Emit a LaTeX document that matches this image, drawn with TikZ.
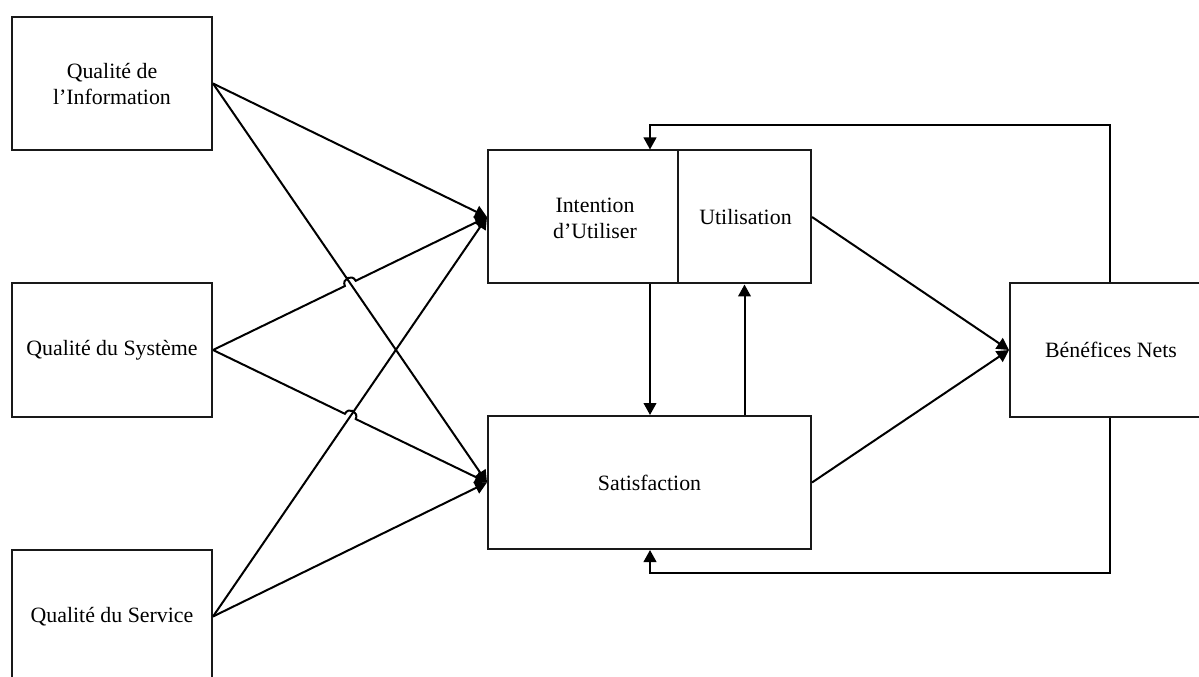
\documentclass[tikz,border=0pt]{standalone}
\usepackage{fontspec}
\setmainfont{Liberation Serif}
\usetikzlibrary{arrows.meta,calc}

\tikzset{
  box/.style={draw=black!90, line width=1.5pt, rectangle, inner sep=0pt},
  lbl/.style={font=\fontsize{16.4}{19.5}\selectfont, align=center, inner sep=0pt},
  link/.style={line width=1.5pt, -{Triangle[length=9pt,width=9.5pt]}},
}

\begin{document}
\begin{tikzpicture}[x=0.75pt, y=-0.75pt]
  \useasboundingbox (0,0) rectangle (1199,677);

  % quality dimensions
  \node[box, minimum width=150pt, minimum height=99.75pt] (qi) at (112,83.5) {};
  \node[lbl] (qit) at (112,84) {Qualité de\\l’Information};
  \node[box, minimum width=150pt, minimum height=99.75pt] (qs) at (112,350) {};
  \node[lbl] (qst) at (112,350) {Qualité du Système};
  \node[box, minimum width=150pt, minimum height=99.75pt] (qv) at (112,616.5) {};
  \node[lbl] (qvt) at (112,617) {Qualité du Service};

  % use, satisfaction and net benefits
  \node[box, minimum width=142.5pt, minimum height=99.75pt] (int) at (583,217) {};
  \node[lbl] (intt) at (595,218) {Intention\\d’Utiliser};
  \node[box, minimum width=99.75pt, minimum height=99.75pt] (util) at (744.5,217) {};
  \node[lbl] (utilt) at (745.5,217) {Utilisation};
  \node[box, minimum width=242.25pt, minimum height=99.75pt] (sat) at (649.5,482.5) {};
  \node[lbl] (satt) at (649.5,483) {Satisfaction};
  \node[box, minimum width=150pt, minimum height=99.75pt] (ben) at (1110,350) {};
  \node[lbl] (bent) at (1111,350) {Bénéfices Nets};

  % crossings with line hops
  \coordinate (x1) at (intersection of qs.east--int.west and qi.east--sat.west);
  \coordinate (x2) at (intersection of qs.east--sat.west and qv.east--int.west);
  \coordinate (h1a) at ($(x1)!4.5pt!(qs.east)$);
  \coordinate (h1b) at ($(x1)!4.5pt!(int.west)$);
  \coordinate (h2a) at ($(x2)!4.5pt!(qs.east)$);
  \coordinate (h2b) at ($(x2)!4.5pt!(sat.west)$);

  % quality -> intention / satisfaction
  \draw[link] (qi.east) -- (int.west);
  \draw[link] (qi.east) -- (sat.west);
  \draw[link] (qs.east) -- (h1a)
     .. controls ($(h1a)!6pt!90:(h1b)$) and ($(h1b)!6pt!-90:(h1a)$) .. (h1b)
     -- (int.west);
  \draw[link] (qs.east) -- (h2a)
     .. controls ($(h2a)!6pt!90:(h2b)$) and ($(h2b)!6pt!-90:(h2a)$) .. (h2b)
     -- (sat.west);
  \draw[link] (qv.east) -- (int.west);
  \draw[link] (qv.east) -- (sat.west);

  % between intention/use and satisfaction
  \coordinate (topbend) at (650,125);
  \coordinate (botbend) at (650,573);
  \draw[link] (topbend |- int.south) -- (topbend |- sat.north);
  \draw[link] (util.south |- sat.north) -- (util.south);

  % towards net benefits
  \draw[link] (util.east) -- (ben.west);
  \draw[link] (sat.east) -- (ben.west);

  % feedback loops
  \draw[link] (ben.north) |- (topbend) -- (topbend |- int.north);
  \draw[link] (ben.south) |- (botbend) -- (botbend |- sat.south);
\end{tikzpicture}
\end{document}
